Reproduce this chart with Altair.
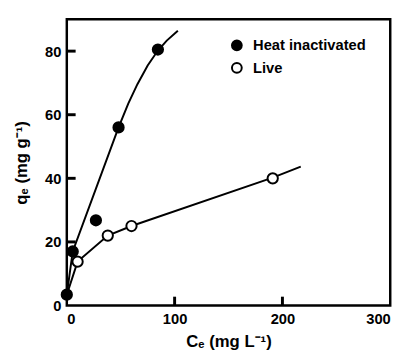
import altair as alt
import pandas as pd

# Measured data points
heat_x = [0, 5.5, 27, 48, 84.5]
heat_y = [3.4, 17, 26.8, 56, 80.5]
live_x = [10, 38, 60, 191]
live_y = [13.8, 22, 25, 40]

# Fitted curves
heat_curve_x = [0, 5.5, 48, 57, 65.5, 75, 84.5, 92.7, 103]
heat_curve_y = [3.4, 17, 56, 63.5, 69.6, 75.5, 80.2, 83.3, 86.4]
live_curve_x = [0, 10, 38, 60, 191, 217]
live_curve_y = [3.4, 13.8, 22, 25, 40.2, 43.7]

x_ticks = [100, 200]
y_ticks = [20, 40, 60, 80]

series = ["Heat inactivated", "Live"]
FONT = "Liberation Sans"

pts = pd.DataFrame(
    {"x": heat_x + live_x,
     "y": heat_y + live_y,
     "s": [series[0]] * len(heat_x) + [series[1]] * len(live_x)}
)
curves = pd.DataFrame(
    {"x": heat_curve_x + live_curve_x,
     "y": heat_curve_y + live_curve_y,
     "s": [series[0]] * len(heat_curve_x) + [series[1]] * len(live_curve_x)}
)

xs = alt.Scale(domain=[0, 300], nice=False, zero=False)
ys = alt.Scale(domain=[0, 90], nice=False, zero=False)

xax = alt.Axis(values=[0, 100, 200, 300], ticks=False, domain=False, grid=False,
               labelFont=FONT, labelFontWeight="bold", labelFontSize=15, labelPadding=6,
               labelColor="black", title="Cₑ (mg L⁻¹)", titleFont=FONT, titleFontWeight="bold",
               titleFontSize=17, titlePadding=8, titleColor="black")
yax = alt.Axis(values=[0, 20, 40, 60, 80], ticks=False, domain=False, grid=False,
               labelFont=FONT, labelFontWeight="bold", labelFontSize=15, labelPadding=6,
               labelColor="black", title="qₑ (mg g⁻¹)", titleFont=FONT, titleFontWeight="bold",
               titleFontSize=17, titlePadding=14, titleColor="black")

lines = alt.Chart(curves).mark_line(color="black", strokeWidth=2, interpolate="linear").encode(
    x=alt.X("x:Q", scale=xs, axis=xax),
    y=alt.Y("y:Q", scale=ys, axis=yax),
    detail="s:N",
)

points = alt.Chart(pts).mark_point(filled=True, size=110, stroke="black", strokeWidth=2, opacity=1).encode(
    x=alt.X("x:Q", scale=xs),
    y=alt.Y("y:Q", scale=ys),
    fill=alt.Fill("s:N", scale=alt.Scale(domain=series, range=["black", "white"]),
                  legend=alt.Legend(title=None, orient="none", legendX=166, legendY=19,
                                    labelFont=FONT, labelFontWeight="bold", labelFontSize=15,
                                    labelColor="black", symbolSize=100, symbolStrokeWidth=2,
                                    symbolStrokeColor="black", symbolType="circle",
                                    rowPadding=4, labelOffset=9)),
)

xt = alt.Chart(pd.DataFrame({"v": x_ticks})).mark_rule(color="black", strokeWidth=3).encode(
    x=alt.X("v:Q", scale=xs), y=alt.value(292), y2=alt.value(283))
yt = alt.Chart(pd.DataFrame({"v": y_ticks})).mark_rule(color="black", strokeWidth=3).encode(
    y=alt.Y("v:Q", scale=ys), x=alt.value(0), x2=alt.value(9))

chart = alt.layer(lines, xt, yt, points).properties(
    width=330, height=292,
    autosize=alt.AutoSizeParams(type="none"),
    padding={"left": 60, "top": 8, "right": 12, "bottom": 50},
).configure_view(stroke="black", strokeWidth=2.5)

chart.save("out.html", embed_options={"renderer": "svg", "actions": False})
